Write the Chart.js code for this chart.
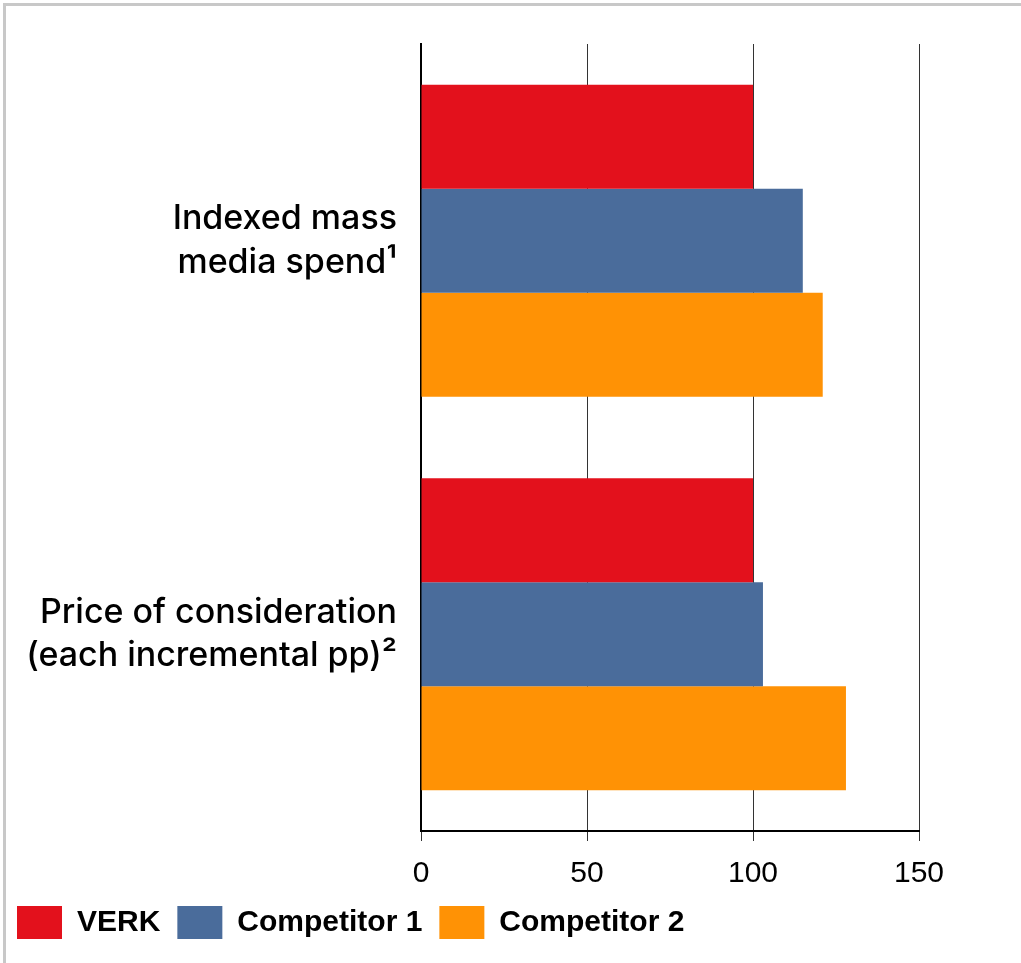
<!DOCTYPE html>
<html>
<head>
<meta charset="utf-8">
<script src="https://cdn.jsdelivr.net/npm/chart.js@4.4.0/dist/chart.umd.min.js"></script>
<style>
  html, body { margin: 0; padding: 0; background: #fff; }
  .frame {
    position: absolute; left: 3px; top: 3px; width: 1018px; height: 960px;
    border-top: 3px solid #c8c8c8; border-left: 3px solid #c8c8c8;
    box-sizing: border-box;
  }
  .wrap { position: absolute; left: 0; top: 0; width: 1021px; height: 963px; }
</style>
</head>
<body>
<div class="frame"></div>
<div class="wrap"><canvas id="chart"></canvas></div>
<script>
// Data
const categories = [
    ['Indexed mass', 'media spend\u00B9'],
    ['Price of consideration', '(each incremental pp)\u00B2']
];
const seriesNames = ['VERK', 'Competitor 1', 'Competitor 2'];
const verk = [100, 100];
const competitor1 = [115, 103];
const competitor2 = [121, 128];
const xTicks = [0, 50, 100, 150];
const colors = ['#E3111C', '#4A6C9B', '#FF9205'];

document.addEventListener('DOMContentLoaded', () => {
    const ctx = document.getElementById('chart').getContext('2d');
    const values = [verk, competitor1, competitor2];

    new Chart(ctx, {
        type: 'bar',
        data: {
            labels: categories,
            datasets: seriesNames.map((name, i) => ({
                label: name,
                data: values[i],
                backgroundColor: colors[i],
                borderWidth: 0,
                categoryPercentage: 0.793,
                barPercentage: 1.0
            }))
        },
        options: {
            indexAxis: 'y',
            responsive: true,
            maintainAspectRatio: false,
            animation: false,
            layout: { padding: { top: 44, right: 102, left: 0, bottom: 14 } },
            scales: {
                x: {
                    min: 0,
                    max: 150,
                    afterBuildTicks: (scale) => { scale.ticks = xTicks.map(v => ({ value: v })); },
                    afterFit: (scale) => { scale.height = 58; },
                    grid: { color: '#333', lineWidth: 1, tickLength: 10, drawTicks: true },
                    border: { color: '#000', width: 2 },
                    ticks: {
                        color: '#000',
                        font: { family: '"Liberation Sans", Arial, sans-serif', size: 30 },
                        padding: 15,
                        maxRotation: 0
                    }
                },
                y: {
                    afterFit: (scale) => {
                        scale.width = 421;
                        scale.paddingTop = 0;
                        scale.paddingBottom = 0;
                    },
                    grid: { display: false, drawTicks: false },
                    border: { color: '#000', width: 2 },
                    ticks: {
                        color: '#000',
                        font: { family: 'Inter, "Open Sans", sans-serif', size: 34, weight: 500, lineHeight: 1.27 },
                        padding: 24
                    }
                }
            },
            plugins: {
                legend: {
                    position: 'bottom',
                    align: 'start',
                    labels: {
                        boxWidth: 45,
                        boxHeight: 33,
                        padding: 17,
                        color: '#000',
                        font: { family: '"Liberation Sans", Arial, sans-serif', size: 30, weight: 'bold' }
                    }
                },
                tooltip: { enabled: false }
            }
        }
    });
});
</script>
</body>
</html>
